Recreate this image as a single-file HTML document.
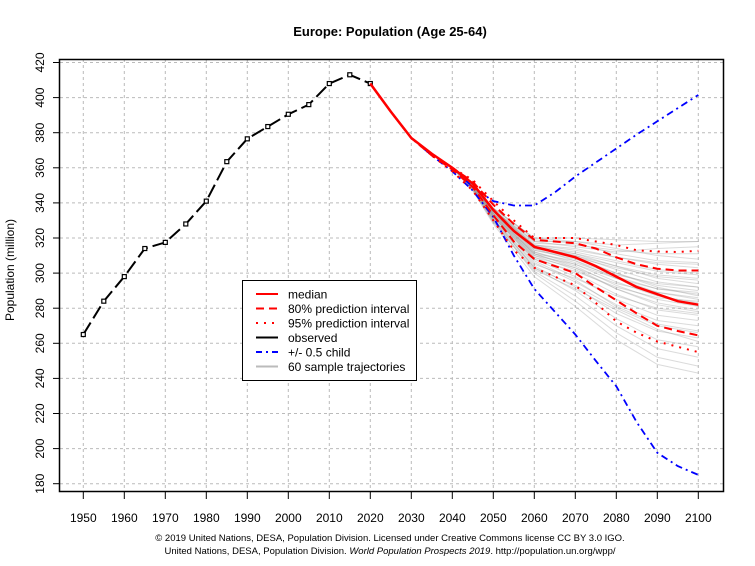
<!DOCTYPE html>
<html><head><meta charset="utf-8"><style>
body{margin:0;background:#fff}
svg{display:block;font-family:"Liberation Sans",Arial,sans-serif}
</style></head><body>
<svg id="c" width="755" height="566" xmlns="http://www.w3.org/2000/svg">
<text x="390" y="36" text-anchor="middle" font-size="13" font-weight="bold">Europe: Population (Age 25-64)</text>
<text transform="translate(14,270) rotate(-90)" text-anchor="middle" font-size="12">Population (million)</text>
<text x="390" y="541" text-anchor="middle" font-size="9.5">© 2019 United Nations, DESA, Population Division. Licensed under Creative Commons license CC BY 3.0 IGO.</text>
<text x="390" y="554" text-anchor="middle" font-size="9.5">United Nations, DESA, Population Division. <tspan font-style="italic">World Population Prospects 2019</tspan>. http://population.un.org/wpp/</text>
<g id="grid"></g><g id="samples"></g><g id="series"></g><g id="axes"></g>
</svg>
<script>
const obsYears=[1950,1955,1960,1965,1970,1975,1980,1985,1990,1995,2000,2005,2010,2015,2020];
const obsVals=[265,284,298,314,317.5,328,341,363.5,376.5,383.5,390.5,396,408,413,408];
const projYears=[2020,2025,2030,2035,2040,2045,2050,2055,2060,2065,2070,2075,2080,2085,2090,2095,2100];
const median=[408,392,377,368,360,351,336,324,315,312,309,304,298,292,288,284,282];
const pi80Up=[408,392,377,368,360,352,339,328,319,318,317,314,309,305,302.5,301.5,301.5];
const pi80Lo=[408,392,377,367,359,349,333,318,308,304,300,292,284.5,277,270,267,264.5];
const pi95Up=[408,392,377,368,360,353,341,330,320,320,320,318,316,313,312.3,312,312.7];
const pi95Lo=[408,392,377,367,358,347,330,313,303,298,293,283,272.5,266,261,258,255];
const childUp=[408,392,377,368,360,349,341,338.5,338.5,346,355,363,371,379,386.5,394,401.5];
const childLo=[408,392,377,367,358,347,332,310,291,278,265,250,235.5,215,197.6,190,185];
const sampleYears=[2040,2045,2050,2060,2070,2080,2090,2100];
const samples=[
[360,351,337,320,320,319,318,318],[360,351,336,318,318,316,317,318],[360,351,336,317,316,313,311,311],[360,351,337,320,318,314,310,308],
[360,351,336,316,313,309,305,303],[360,350,335,315,312,307,302,300],[360,350,334,314,310,304,299,297],[360,351,336,316,311,304,297,294],
[360,350,335,315,310,302,295,292],[360,350,334,313,308,300,293,290],[360,350,333,312,306,298,291,288],[360,351,336,315,309,300,292,287],
[360,350,335,314,307,297,289,285],[360,350,334,312,305,295,287,283],[360,349,333,311,304,293,285,281],[360,349,332,310,302,291,283,279],
[360,350,334,311,303,291,282,278],[360,349,333,309,300,288,279,276],[360,349,332,308,298,285,276,273],[360,348,331,306,295,282,273,270],
[360,349,332,307,296,281,271,267],[360,348,330,304,292,277,267,263],[360,348,331,303,290,274,262,258],[360,348,329,301,287,270,257,252],
[360,348,330,300,284,266,252,247],[360,347,328,298,281,262,248,243],[360,351,336,318,315,312,314,315],[360,351,335,316,314,309,306,305],
[360,350,334,313,309,303,298,296],[360,350,333,311,307,299,294,292],[360,349,332,309,303,294,289,286],[360,351,337,319,317,311,307,306],
[360,350,335,314,311,306,301,299],[360,349,333,310,305,297,291,289],[360,349,332,308,301,292,286,284],[360,348,331,305,297,287,280,277],
[360,348,330,303,293,280,270,266],[360,347,329,302,291,279,268,261]];
const xTicks=[1950,1960,1970,1980,1990,2000,2010,2020,2030,2040,2050,2060,2070,2080,2090,2100];
const yTicks=[180,200,220,240,260,280,300,320,340,360,380,400,420];
const NS="http://www.w3.org/2000/svg";
const X=y=>83.3+(y-1950)*4.1;
const Y=v=>62.5+(420-v)*1.755;
function mk(parent,tag,attrs){const e=document.createElementNS(NS,tag);for(const k in attrs)e.setAttribute(k,attrs[k]);document.getElementById(parent).appendChild(e);return e;}
function pts(xs,vs){return xs.map((x,i)=>X(x).toFixed(1)+","+Y(vs[i]).toFixed(1)).join(" ");}
xTicks.forEach(t=>{const l=mk('grid','line',{x1:X(t),x2:X(t),y1:59,y2:492,stroke:'#bbb','stroke-dasharray':'3,3'});

});
yTicks.forEach(t=>{const l=mk('grid','line',{x1:60,x2:723,y1:Y(t),y2:Y(t),stroke:'#bbb','stroke-dasharray':'3,3'});

});
samples.forEach(s=>{const l=mk('samples','polyline',{points:pts(sampleYears,s),fill:'none',stroke:'#999','stroke-opacity':0.35,'stroke-width':1});

});
let e;
e=mk('series','polyline',{points:pts(obsYears,obsVals),fill:'none',stroke:'#000','stroke-width':2,'stroke-dasharray':'14,5'});


obsYears.forEach((yr,i)=>{const r=mk('series','rect',{x:X(yr)-2,y:Y(obsVals[i])-2,width:4,height:4,fill:'#fff',stroke:'#000','stroke-width':1.2});

});
e=mk('series','polyline',{points:pts(projYears,childUp),fill:'none',stroke:'#00f','stroke-width':1.8,'stroke-dasharray':'7,4,2,4'});


e=mk('series','polyline',{points:pts(projYears,childLo),fill:'none',stroke:'#00f','stroke-width':1.8,'stroke-dasharray':'7,4,2,4'});


e=mk('series','polyline',{points:pts(projYears,pi95Up),fill:'none',stroke:'#f00','stroke-width':2,'stroke-dasharray':'2,6'});


e=mk('series','polyline',{points:pts(projYears,pi95Lo),fill:'none',stroke:'#f00','stroke-width':2,'stroke-dasharray':'2,6'});


e=mk('series','polyline',{points:pts(projYears,pi80Up),fill:'none',stroke:'#f00','stroke-width':2,'stroke-dasharray':'8,5'});


e=mk('series','polyline',{points:pts(projYears,pi80Lo),fill:'none',stroke:'#f00','stroke-width':2,'stroke-dasharray':'8,5'});


e=mk('series','polyline',{points:pts(projYears,median),fill:'none',stroke:'#f00','stroke-width':2.5});


e=mk('axes','rect',{x:59.5,y:59.5,width:664,height:432,fill:'none',stroke:'#000','stroke-width':1.5});


xTicks.forEach(t=>{const l=mk('axes','line',{x1:X(t),x2:X(t),y1:492,y2:499,stroke:'#000'});


const tx=mk('axes','text',{x:X(t),y:522,'text-anchor':'middle','font-size':12});tx.textContent=t;

});
yTicks.forEach(t=>{const l=mk('axes','line',{x1:53,x2:60,y1:Y(t),y2:Y(t),stroke:'#000'});


const tx=mk('axes','text',{transform:`translate(44,${Y(t)}) rotate(-90)`,'text-anchor':'middle','font-size':12});tx.textContent=t;

});
e=mk('axes','rect',{x:242.5,y:280.5,width:174,height:100,fill:'#fff',stroke:'#000'});


const legTxt=["median","80% prediction interval","95% prediction interval","observed","+/- 0.5 child","60 sample trajectories"];
const legCol=["#f00","#f00","#f00","#000","#00f","#bbb"];
const legDash=["none","8,5","2,6","none","6,4,2,4","none"];
legTxt.forEach((t,i)=>{const yy=294+i*14.5;
const l=mk('axes','line',{x1:256,x2:278,y1:yy,y2:yy,stroke:legCol[i],'stroke-width':2,'stroke-dasharray':legDash[i]});


const tx=mk('axes','text',{x:288,y:yy+4.5,'font-size':12});tx.textContent=t;

});
</script>
</body></html>
